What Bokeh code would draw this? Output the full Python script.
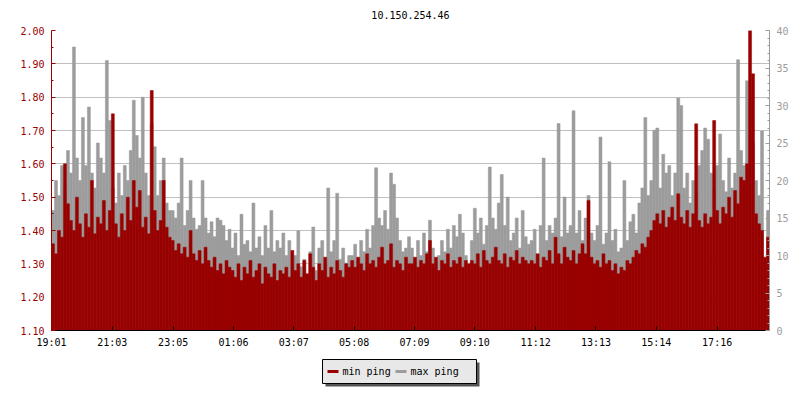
from bokeh.plotting import figure
from bokeh.layouts import column
from bokeh.models import Range1d, LinearAxis, FixedTicker, ColumnDataSource, Grid
from bokeh.core.properties import value
from bokeh.embed import file_html
from bokeh.resources import INLINE

title_text = "10.150.254.46"
x_tick_minutes = [0, 122, 244, 365, 486, 607, 728, 849, 971, 1092, 1213, 1335]
x_tick_labels = ["19:01", "21:03", "23:05", "01:06", "03:07", "05:08",
                 "07:09", "09:10", "11:12", "13:13", "15:14", "17:16"]
left_ticks = [1.1, 1.2, 1.3, 1.4, 1.5, 1.6, 1.7, 1.8, 1.9, 2.0]
left_tick_labels = ["1.10", "1.20", "1.30", "1.40", "1.50", "1.60", "1.70", "1.80", "1.90", "2.00"]
right_ticks = [0, 5, 10, 15, 20, 25, 30, 35, 40]
step_minutes = 6
series_names = ["min ping", "max ping"]

# min ping (left axis), one value per 6 minutes starting 19:01
min_ping = [
    1.36, 1.33, 1.40, 1.38, 1.60, 1.48, 1.43, 1.40, 1.50, 1.42, 1.38, 1.45, 1.41, 1.55, 1.39, 1.44, 1.42, 1.49, 1.40, 1.46,
    1.75, 1.42, 1.38, 1.45, 1.40, 1.50, 1.43, 1.55, 1.47, 1.52, 1.41, 1.44, 1.39, 1.82, 1.46, 1.40, 1.43, 1.55, 1.41, 1.38,
    1.37, 1.34, 1.36, 1.33, 1.35, 1.32, 1.40, 1.33, 1.31, 1.34, 1.30, 1.35, 1.31, 1.29, 1.32, 1.28, 1.30, 1.27, 1.31, 1.29,
    1.28, 1.26, 1.30, 1.25, 1.29, 1.27, 1.31, 1.26, 1.28, 1.30, 1.24, 1.29, 1.27, 1.26, 1.30, 1.25, 1.28, 1.27, 1.29, 1.26,
    1.34, 1.28, 1.30, 1.26, 1.31, 1.27, 1.33, 1.29, 1.25, 1.30, 1.28, 1.32, 1.26, 1.29, 1.27, 1.31, 1.28, 1.26, 1.30, 1.29,
    1.31, 1.29, 1.32, 1.30, 1.28, 1.33, 1.30, 1.31, 1.29, 1.32, 1.35, 1.30, 1.31, 1.36, 1.29, 1.31, 1.30, 1.28, 1.32, 1.30,
    1.30, 1.32, 1.29, 1.31, 1.30, 1.33, 1.37, 1.30, 1.32, 1.28, 1.31, 1.30, 1.33, 1.29, 1.31, 1.30, 1.32, 1.29, 1.31, 1.30,
    1.31, 1.30, 1.33, 1.29, 1.34, 1.31, 1.30, 1.32, 1.35, 1.31, 1.30, 1.33, 1.29, 1.32, 1.31, 1.34, 1.30, 1.32, 1.31, 1.30,
    1.31, 1.30, 1.33, 1.29, 1.32, 1.31, 1.34, 1.30, 1.38, 1.33, 1.30, 1.35, 1.32, 1.31, 1.34, 1.30, 1.33, 1.36, 1.33, 1.49,
    1.32, 1.30, 1.31, 1.29, 1.33, 1.30, 1.31, 1.28, 1.30, 1.27, 1.29, 1.28, 1.31, 1.30, 1.32, 1.34, 1.33, 1.36, 1.35, 1.38,
    1.40, 1.43, 1.45, 1.42, 1.46, 1.41, 1.44, 1.47, 1.43, 1.51, 1.44, 1.42, 1.46, 1.41, 1.45, 1.72, 1.43, 1.41, 1.45, 1.42,
    1.44, 1.73, 1.46, 1.42, 1.47, 1.45, 1.50, 1.44, 1.52, 1.48, 1.56, 1.55, 1.60, 2.00, 1.87, 1.45, 1.42, 1.40, 1.32, 1.38,
]

# max ping (right axis)
max_ping = [
    16, 20, 18, 22, 19, 24, 21, 37.8, 23, 20, 28.4, 22, 29.8, 21, 19, 25, 23, 21, 36, 28,
    19, 17, 21, 18, 22, 20, 24, 30.7, 26, 23, 31.1, 21, 18, 27.6, 24.5, 18, 20, 23, 17, 16,
    16, 15, 17, 23, 14, 16, 20, 15, 13.5, 14, 20, 15, 13, 14.5, 12.5, 15, 14.7, 14, 12, 13.5,
    11, 13, 10, 15.5, 11.5, 12, 10.5, 17, 11, 12.5, 10, 14, 11, 16, 10.5, 12, 11, 13, 10, 12,
    9, 10, 13.3, 8.5, 9.5, 7.5, 10.5, 13.8, 8, 11, 12, 9, 19, 10.5, 12, 18.3, 9.5, 11, 9, 10,
    10, 11.5, 9.5, 12, 10.5, 13.5, 11, 14, 21.7, 15, 14, 16, 13.5, 21, 19.5, 15, 12, 10.5, 11, 12.5,
    11, 9.5, 12, 10, 13, 10.5, 14.7, 11, 9, 10, 12, 10.5, 13.5, 11, 14, 12.5, 15.5, 13, 10, 8.5,
    12, 16.3, 13, 15, 11.5, 14, 21.8, 15, 13.5, 17, 20.8, 14, 17.8, 12, 13, 15, 11, 16, 12.5, 11.5,
    12, 13.5, 10, 14, 23, 12, 14, 13, 15, 27.6, 12.5, 17.8, 13, 14, 29.3, 13, 16, 12, 15, 18,
    13, 12, 14, 25.8, 11.5, 13, 22.5, 12, 13.5, 10.5, 11, 20, 12, 14.5, 15.5, 13, 17, 19, 28.4, 18,
    20, 26.7, 27, 19, 23.5, 21, 22, 18, 21, 31, 30, 19, 21, 17, 20, 18.5, 22, 24, 27, 25.5,
    21, 19, 22, 26.2, 20, 18.5, 23, 19, 21, 36.1, 24, 22, 33.3, 31, 25, 20, 18, 26.6, 6, 16,
]

RED = "#990000"
GRAY = "#9c9c9c"
FONT = "DejaVu Sans Mono"
FW = 718  # frame width in px

x = [step_minutes * i + step_minutes / 2 for i in range(len(min_ping))]
src = ColumnDataSource(dict(x=x, mn=min_ping, mx=max_ping))

# title strip
TH = 22
tf = figure(width=792, height=TH, output_backend="svg", toolbar_location=None,
            min_border_left=51, min_border_right=23, min_border_top=0, min_border_bottom=0,
            x_axis_type=None, y_axis_type=None,
            x_range=Range1d(0, FW), y_range=Range1d(TH, 0))
tf.outline_line_color = None
tf.grid.visible = False
tf.text(x=[FW / 2], y=[14], text=[title_text], text_font=value(FONT), text_font_size="10px",
        text_color="black", text_align="center", text_baseline="middle")

p = figure(width=792, height=328, output_backend="svg", toolbar_location=None,
           x_range=Range1d(0, step_minutes * len(min_ping)), y_range=Range1d(1.1, 2.0),
           min_border_left=51, min_border_right=23, min_border_top=8, min_border_bottom=20,
           x_axis_type=None, y_axis_type=None)
p.extra_y_ranges = {"right": Range1d(0, 40)}
p.outline_line_color = None

p.vbar(x="x", top="mx", bottom=0, width=step_minutes, source=src, y_range_name="right",
       fill_color=GRAY, line_color=GRAY, line_width=0.5)
p.vbar(x="x", top="mn", bottom=1.1, width=step_minutes, source=src,
       fill_color=RED, line_color=RED, line_width=0.5)

xa = LinearAxis(ticker=FixedTicker(ticks=x_tick_minutes))
xa.major_label_overrides = {t: l for t, l in zip(x_tick_minutes, x_tick_labels)}
ya = LinearAxis(ticker=FixedTicker(ticks=left_ticks,
                                   minor_ticks=[v + 0.05 for v in left_ticks[:-1]]))
ya.major_label_overrides = {t: l for t, l in zip(left_ticks, left_tick_labels)}
ra = LinearAxis(y_range_name="right",
                ticker=FixedTicker(ticks=right_ticks, minor_ticks=list(range(0, 41))))

for ax, col in ((xa, "black"), (ya, RED), (ra, GRAY)):
    ax.axis_line_color = col
    ax.major_tick_line_color = col
    ax.minor_tick_line_color = col
    ax.major_tick_in = 4
    ax.major_tick_out = 0
    ax.minor_tick_in = 2
    ax.minor_tick_out = 0
    ax.major_label_text_font = FONT
    ax.major_label_text_font_size = "10px"
    ax.major_label_text_color = col
    ax.major_label_standoff = 7
xa.minor_tick_line_color = None
xa.major_label_standoff = 6

p.add_layout(xa, "below")
p.add_layout(ya, "left")
p.add_layout(ra, "right")
p.add_layout(Grid(dimension=1, ticker=ya.ticker, grid_line_color="#c0c0c0", grid_line_width=1))

# legend strip below the chart (pixel coordinates inside the strip's frame)
LH = 42
lf = figure(width=792, height=LH, output_backend="svg", toolbar_location=None,
            min_border_left=51, min_border_right=23, min_border_top=0, min_border_bottom=0,
            x_axis_type=None, y_axis_type=None,
            x_range=Range1d(0, FW), y_range=Range1d(LH, 0))
lf.outline_line_color = None
lf.grid.visible = False

box_l, box_t, box_w, box_h = 271, 9, 154, 24
lf.quad(left=box_l + 3, right=box_l + box_w + 3, top=box_t + 3, bottom=box_t + box_h + 3,
        fill_color="#555555", line_color=None)
lf.quad(left=box_l, right=box_l + box_w, top=box_t, bottom=box_t + box_h,
        fill_color="#e8e8e8", line_color="black", line_width=1)
mid = box_t + box_h / 2
sw_x = [box_l + 5, box_l + 73]
lf.segment(x0=[s for s in sw_x], x1=[s + 11 for s in sw_x], y0=[mid, mid], y1=[mid, mid],
           line_color=[RED, GRAY], line_width=3)
lf.text(x=[s + 15 for s in sw_x], y=[mid, mid], text=series_names,
        text_font=value(FONT), text_font_size="10px", text_color="black",
        text_baseline="middle", text_align="left")

layout = column(tf, p, lf, spacing=0)
open("out.html", "w").write(file_html(layout, INLINE))
